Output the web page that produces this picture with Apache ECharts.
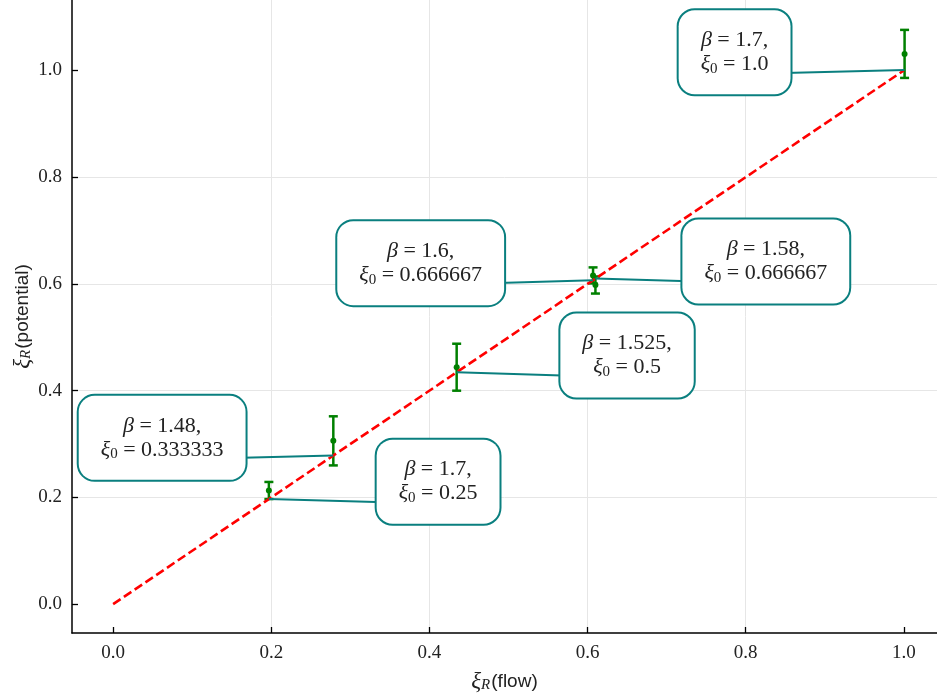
<!DOCTYPE html>
<html>
<head>
<meta charset="utf-8">
<script src="https://cdn.jsdelivr.net/npm/echarts@6/dist/echarts.min.js"></script>
<style>
  html, body { margin: 0; padding: 0; background: #fff; }
  #main { width: 937px; height: 699px; }
</style>
</head>
<body>
<div id="main"></div>
<script>
var myChart = echarts.init(document.getElementById('main'));

// measured points: xi_R(flow), xi_R(potential) and its error
var flowX = [0.197, 0.2785, 0.4345, 0.607, 0.610, 1.001];
var potY = [0.213, 0.306, 0.444, 0.616, 0.598, 1.031];
var potErr = [0.016, 0.046, 0.044, 0.015, 0.016, 0.045];

// annotations: text and where the boxes sit (data coords)
var annBeta = ['1.7', '1.48', '1.525', '1.6', '1.58', '1.7'];
var annXi0 = ['0.25', '0.333333', '0.5', '0.666667', '0.666667', '1.0'];
var annTarget = [0.197, 0.2785, 0.4345, 0.607, 0.610, 1.001];
var annBoxX = [0.411, 0.062, 0.650, 0.389, 0.8255, 0.786];
var annBoxY = [0.2295, 0.3116, 0.466, 0.639, 0.642, 1.034];

var tickVals = [0, 0.2, 0.4, 0.6, 0.8, 1.0];
var diag = [[0, 0], [1, 1]];

var serif = '"Liberation Serif", "DejaVu Serif", serif';
var sans = '"Liberation Sans", "DejaVu Sans", sans-serif';
var teal = '#0a7f7f';
var green = '#008000';

var errData = [];
for (var i = 0; i < flowX.length; i++) {
    errData.push([flowX[i], potY[i], potErr[i]]);
}
var annData = [];
for (var j = 0; j < annBeta.length; j++) {
    annData.push([annBoxX[j], annBoxY[j], annTarget[j], annTarget[j], j]);
}

function axisName(txt) {
    return '{i|ξ}{s|R}' + txt;
}
var nameRich = {
    i: { fontFamily: serif, fontStyle: 'italic', fontSize: 23, color: '#222' },
    s: { fontFamily: serif, fontStyle: 'italic', fontSize: 15, color: '#222', verticalAlign: 'bottom', padding: [8, 1, 0, 0] }
};

function axisCommon() {
    return {
        type: 'value',
        axisLine: { show: true, onZero: false, lineStyle: { color: '#000', width: 1.5 } },
        axisTick: { show: true, inside: true, length: 6, customValues: tickVals, lineStyle: { color: '#000', width: 1.3 } },
        axisLabel: {
            customValues: tickVals,
            fontFamily: serif, fontSize: 19, color: '#222',
            formatter: function (v) { return v.toFixed(1); }
        },
        splitLine: { show: true, showMinLine: false, showMaxLine: false, lineStyle: { color: '#e6e6e6', width: 1 } },
        nameLocation: 'middle',
        nameMoveOverlap: false,
        nameTextStyle: { fontFamily: sans, fontSize: 19, color: '#222', rich: nameRich }
    };
}

var xAxis = axisCommon();
xAxis.min = -0.052;
xAxis.max = 1.042;
xAxis.name = axisName('(flow)');
xAxis.nameGap = 37;
xAxis.axisLabel.margin = 11;

var yAxis = axisCommon();
yAxis.min = -0.054;
yAxis.max = 1.132;
yAxis.name = axisName('(potential)');
yAxis.nameGap = 38;
yAxis.axisLabel.margin = 10;

option = {
    backgroundColor: '#fff',
    animation: false,
    grid: { left: 72, right: 0, top: 0, bottom: 66, outerBoundsMode: 'none', containLabel: false },
    xAxis: xAxis,
    yAxis: yAxis,
    series: [
        {
            type: 'custom',
            name: 'errorbars',
            z: 3,
            data: errData,
            renderItem: function (params, api) {
                var x = api.value(0), y = api.value(1), e = api.value(2);
                var top = api.coord([x, y + e]);
                var bot = api.coord([x, y - e]);
                var mid = api.coord([x, y]);
                var cap = 4.5;
                var st = { stroke: green, lineWidth: 2.5 };
                return {
                    type: 'group',
                    children: [
                        { type: 'line', shape: { x1: top[0], y1: top[1], x2: bot[0], y2: bot[1] }, style: st },
                        { type: 'line', shape: { x1: top[0] - cap, y1: top[1], x2: top[0] + cap, y2: top[1] }, style: st },
                        { type: 'line', shape: { x1: bot[0] - cap, y1: bot[1], x2: bot[0] + cap, y2: bot[1] }, style: st },
                        { type: 'circle', shape: { cx: mid[0], cy: mid[1], r: 3 }, style: { fill: green } }
                    ]
                };
            }
        },
        {
            type: 'line',
            name: 'diag',
            z: 4,
            data: diag,
            symbol: 'none',
            lineStyle: { color: '#ff0000', width: 2.6, type: [9, 4] }
        },
        {
            type: 'custom',
            name: 'notes',
            z: 5,
            data: annData,
            renderItem: function (params, api) {
                var k = api.value(4);
                var box = api.coord([api.value(0), api.value(1)]);
                var tgt = api.coord([api.value(2), api.value(3)]);
                var txt = '{i|β} = ' + annBeta[k] + ',\n{i|ξ}{s|0} = ' + annXi0[k];
                return {
                    type: 'group',
                    children: [
                        {
                            type: 'line',
                            shape: { x1: box[0], y1: box[1] + 22, x2: tgt[0], y2: tgt[1] },
                            style: { stroke: teal, lineWidth: 2 },
                            z2: 1
                        },
                        {
                            type: 'text',
                            x: box[0], y: box[1],
                            z2: 2,
                            style: {
                                text: txt,
                                align: 'center', verticalAlign: 'middle',
                                fontFamily: serif, fontSize: 22, lineHeight: 24,
                                fill: '#222',
                                backgroundColor: '#fff',
                                borderColor: teal, borderWidth: 2, borderRadius: 16,
                                padding: [18, 22, 18, 22],
                                rich: {
                                    i: { fontFamily: serif, fontStyle: 'italic', fontSize: 22, lineHeight: 24, fill: '#222' },
                                    s: { fontFamily: serif, fontSize: 15, lineHeight: 24, fill: '#222', verticalAlign: 'bottom' }
                                }
                            }
                        }
                    ]
                };
            }
        }
    ]
};

myChart.setOption(option);
</script>
</body>
</html>
